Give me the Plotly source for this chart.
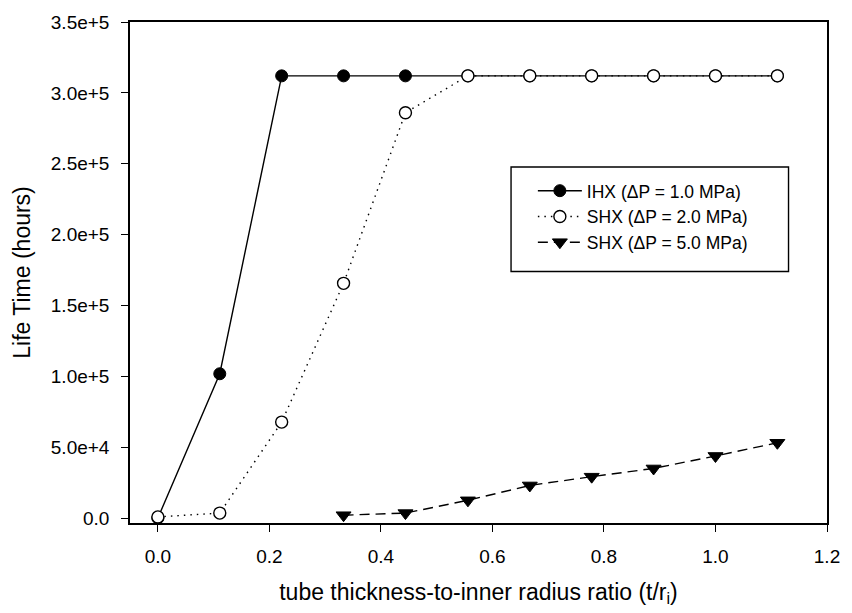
import plotly.graph_objects as go

# thickness-to-inner-radius ratio values
ratio = [0.0, 0.111, 0.222, 0.333, 0.444, 0.556, 0.667, 0.778, 0.889, 1.0, 1.111]

# life time (hours) for each case
ihx_1mpa = [0, 101800, 312000, 312000, 312000, 312000, 312000, 312000, 312000, 312000, 312000]
shx_2mpa = [800, 3500, 67700, 165600, 286000, 312000, 312000, 312000, 312000, 312000, 312000]
shx_5mpa_x = [0.333, 0.444, 0.556, 0.667, 0.778, 0.889, 1.0, 1.111]
shx_5mpa = [2000, 3500, 12500, 23000, 29200, 35000, 43800, 53100]

x_ticks = [0.0, 0.2, 0.4, 0.6, 0.8, 1.0, 1.2]
x_tick_text = ["0.0", "0.2", "0.4", "0.6", "0.8", "1.0", "1.2"]
y_ticks = [0, 50000, 100000, 150000, 200000, 250000, 300000, 350000]
y_tick_text = ["0.0", "5.0e+4", "1.0e+5", "1.5e+5", "2.0e+5", "2.5e+5", "3.0e+5", "3.5e+5"]

FONT = "Arial, 'Liberation Sans', sans-serif"
LW = 1.4

fig = go.Figure()
fig.add_trace(go.Scatter(
    x=ratio, y=ihx_1mpa, mode="lines+markers",
    name="IHX (\u0394P = 1.0 MPa)", legendgroup="a",
    line=dict(color="black", width=LW, dash="solid"),
    marker=dict(symbol="circle", size=12, color="black",
                line=dict(color="black", width=1)),
))
fig.add_trace(go.Scatter(
    x=ratio, y=shx_2mpa, mode="lines+markers",
    name="SHX (\u0394P = 2.0 MPa)", legendgroup="b",
    line=dict(color="black", width=LW, dash="1.5px,5px"),
    marker=dict(symbol="circle", size=12, color="white",
                line=dict(color="black", width=1.4)),
))
fig.add_trace(go.Scatter(
    x=shx_5mpa_x, y=shx_5mpa, mode="lines+markers",
    name="SHX (\u0394P = 5.0 MPa)", legendgroup="c",
    line=dict(color="black", width=LW, dash="10px,6px"),
    marker=dict(symbol="triangle-down", size=13, color="black",
                line=dict(color="black", width=1)),
))

axis_common = dict(
    showline=True, linecolor="black", linewidth=1.5, mirror=True,
    ticks="outside", ticklen=7, tickwidth=1.4, tickcolor="black",
    showgrid=False, zeroline=False,
    tickfont=dict(family=FONT, size=19, color="black"),
)

# frame around the legend entries
fig.add_shape(type="rect", xref="paper", yref="paper",
              x0=0.5467, x1=0.9448, y0=0.502, y1=0.7106,
              line=dict(color="black", width=1.4), fillcolor="rgba(0,0,0,0)")

fig.update_layout(
    width=852, height=613,
    margin=dict(l=130, r=16, t=15, b=90),
    paper_bgcolor="white", plot_bgcolor="white",
    font=dict(family=FONT, color="black"),
    xaxis=dict(
        range=[-0.05, 1.2], tickvals=x_ticks, ticktext=x_tick_text,
        ticklabelstandoff=8,
        title=dict(text="tube thickness-to-inner radius ratio (t/r<sub>i</sub>)",
                   font=dict(family=FONT, size=23), standoff=18),
        **axis_common,
    ),
    yaxis=dict(
        range=[-3500, 350000], tickvals=y_ticks, ticktext=y_tick_text,
        ticklabelstandoff=8,
        title=dict(text="Life Time (hours)", font=dict(family=FONT, size=23),
                   standoff=14),
        **axis_common,
    ),
    legend=dict(
        x=0.578, y=0.699, xanchor="left", yanchor="top",
        bgcolor="rgba(0,0,0,0)", borderwidth=0,
        font=dict(family=FONT, size=17.5),
        tracegroupgap=0, itemwidth=44,
    ),
)

fig.write_html("out.html")
